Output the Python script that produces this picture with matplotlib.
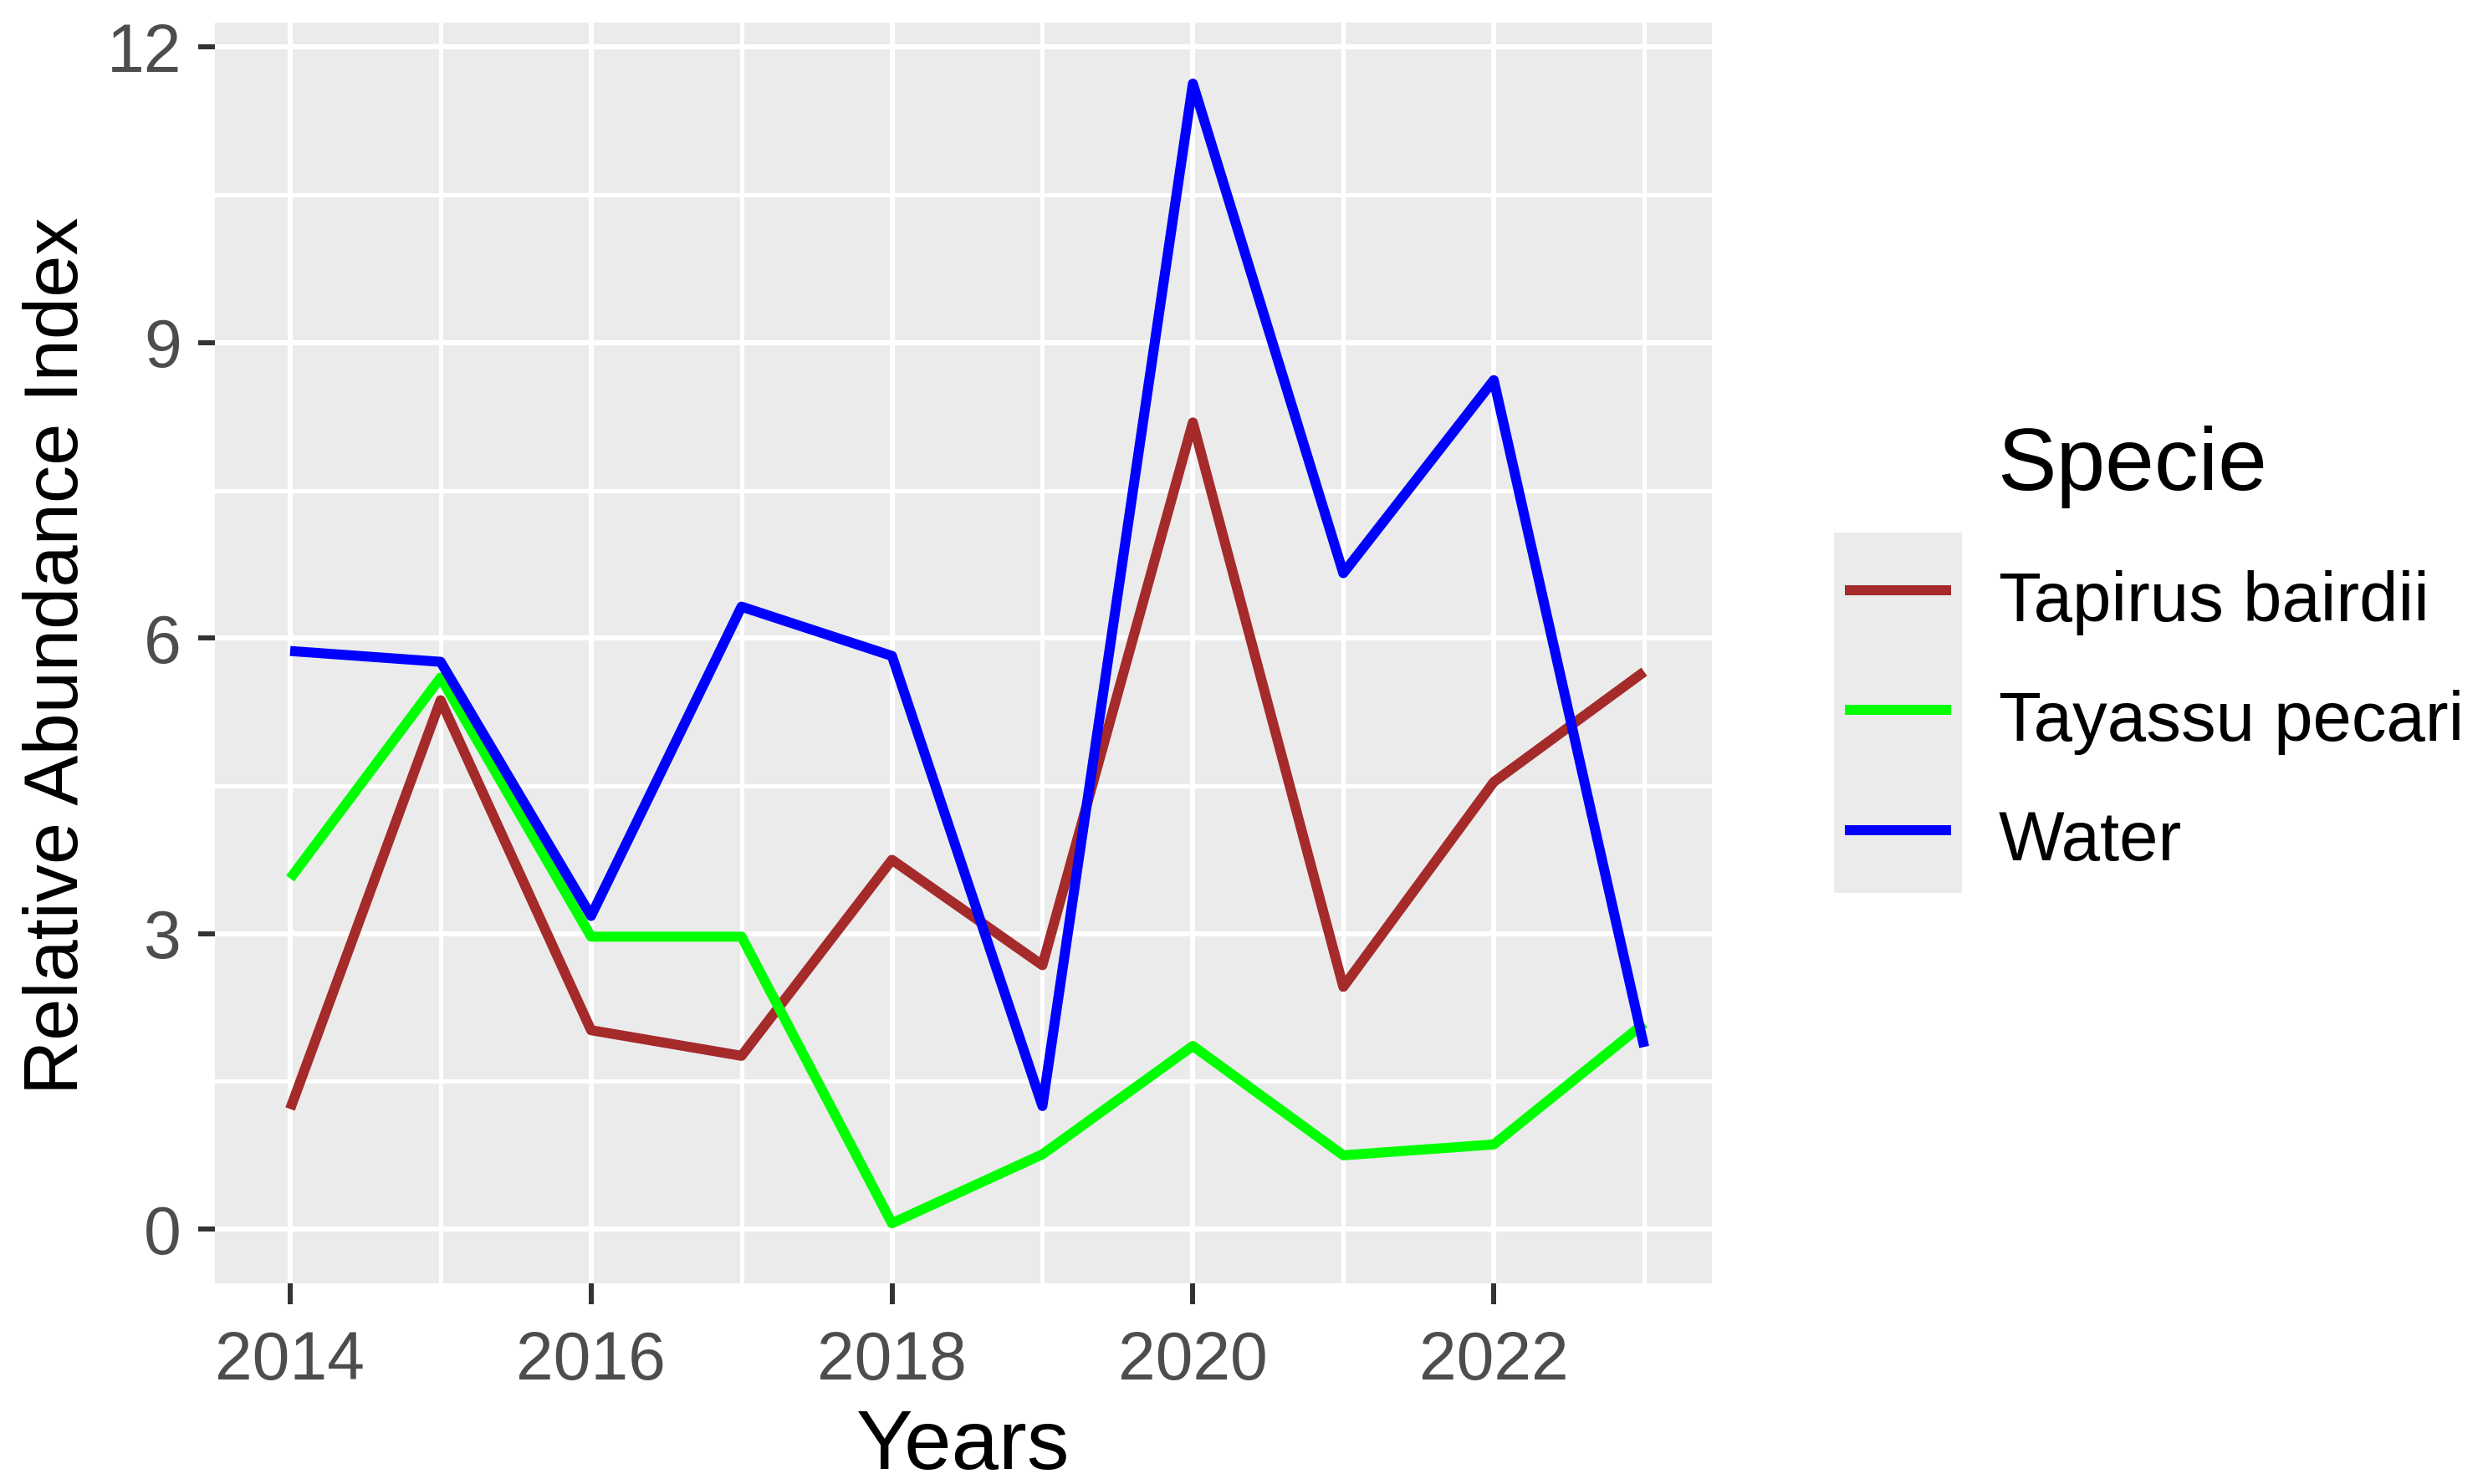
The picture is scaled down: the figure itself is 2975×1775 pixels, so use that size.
import matplotlib
matplotlib.use("Agg")
import matplotlib.pyplot as plt
from matplotlib.lines import Line2D
from matplotlib.patches import Rectangle
from matplotlib.ticker import FixedLocator

plt.rcParams['font.family'] = ['Liberation Sans', 'DejaVu Sans']

# ---- data ----
years = [2014, 2015, 2016, 2017, 2018, 2019, 2020, 2021, 2022, 2023]
species = ["Tapirus bairdii", "Tayassu pecari", "Water"]
tapirus = [1.22, 5.37, 2.02, 1.76, 3.75, 2.68, 8.19, 2.46, 4.54, 5.66]
tayassu = [3.56, 5.60, 2.97, 2.97, 0.06, 0.76, 1.86, 0.75, 0.86, 2.09]
water = [5.87, 5.76, 3.18, 6.32, 5.82, 1.25, 11.63, 6.66, 8.62, 1.85]
series = [tapirus, tayassu, water]
colors = ["#A52A2A", "#00FF00", "#0000FF"]
y_ticks = [0, 3, 6, 9, 12]
y_minor = [1.5, 4.5, 7.5, 10.5]
x_ticks = [2014, 2016, 2018, 2020, 2022]
x_minor = [2015, 2017, 2019, 2021, 2023]

W, H = 2975, 1775
fig = plt.figure(figsize=(W / 100, H / 100), dpi=100)
fig.patch.set_facecolor("white")

px = 0.72  # points per pixel at dpi 100
left, right, top, bottom = 257, 2047, 27, 1535
ax = fig.add_axes([left / W, 1 - bottom / H, (right - left) / W, (bottom - top) / H])
ax.set_facecolor("#EBEBEB")
for s in ax.spines.values():
    s.set_visible(False)

ax.set_xlim(2013.5, 2023.45)
ax.set_ylim(-0.55, 12.25)

# grid
ax.set_xticks(x_ticks)
ax.set_yticks(y_ticks)
ax.xaxis.set_minor_locator(FixedLocator(x_minor))
ax.yaxis.set_minor_locator(FixedLocator(y_minor))
ax.grid(which="major", color="white", linewidth=6 * px)
ax.grid(which="minor", color="white", linewidth=5 * px)
ax.set_axisbelow(True)

ax.tick_params(which="minor", length=0)
ax.tick_params(axis="x", which="major", length=25 * px, width=6 * px, color="#333333",
               pad=31 * px, labelsize=58, labelcolor="#4D4D4D")
ax.tick_params(axis="y", which="major", length=20 * px, width=6 * px, color="#333333",
               pad=20 * px, labelsize=58, labelcolor="#4D4D4D")
ax.set_yticklabels([str(v) for v in y_ticks])
ax.set_xticklabels([str(v) for v in x_ticks])

lw = 12 * px
for vals, c in zip(series, colors):
    ax.plot(years, vals, color=c, linewidth=lw, solid_capstyle="butt",
            solid_joinstyle="round")

# axis titles
fig.text(((left + right) / 2) / W, 1 - 1757 / H, "Years", fontsize=73,
         ha="center", va="baseline", color="black")
fig.text(93 / W, 1 - ((top + bottom) / 2 + 3) / H, "Relative Abundance Index", fontsize=65,
         rotation=90, rotation_mode="anchor", ha="center", va="baseline", color="black")

# legend
fig.text(2388 / W, 1 - 586 / H, "Specie", fontsize=76, ha="left", va="baseline")
fig.add_artist(Rectangle((2193 / W, 1 - 1068 / H), (2346 - 2193) / W, (1068 - 637) / H,
                         transform=fig.transFigure, facecolor="#EBEBEB", edgecolor="none"))
row_y = [706, 849, 992.5]
for name, c, ry in zip(species, colors, row_y):
    fig.add_artist(Line2D([2206 / W, 2333 / W], [1 - ry / H, 1 - ry / H],
                          transform=fig.transFigure, color=c, linewidth=lw,
                          solid_capstyle="butt"))
    fig.text(2390 / W, 1 - (ry + 37) / H, name, fontsize=60, ha="left", va="baseline")

fig.savefig("out.png", dpi=100)
